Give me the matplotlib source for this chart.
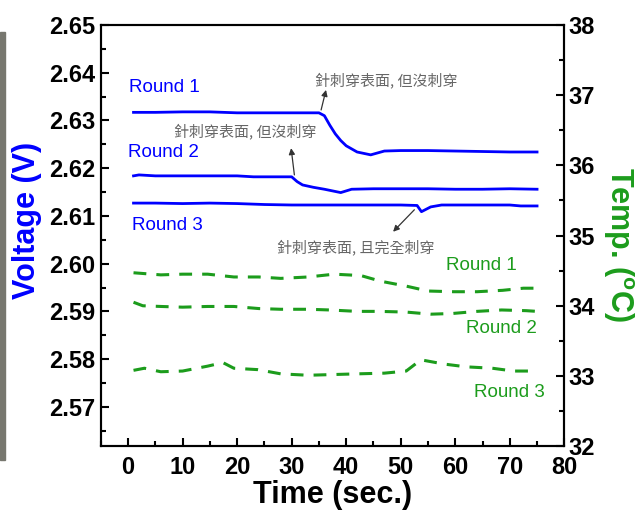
import numpy as np
import matplotlib
matplotlib.use("Agg")
import matplotlib.pyplot as plt
from matplotlib.patches import Rectangle
from matplotlib.ticker import MultipleLocator

plt.rcParams["font.family"] = ["Liberation Sans", "DejaVu Sans"]
plt.rcParams["mathtext.fontset"] = "custom"
plt.rcParams["mathtext.bf"] = "Liberation Sans:bold"
plt.rcParams["mathtext.rm"] = "Liberation Sans"

# Voltage curves (blue, left axis)
t_v1 = [1, 5, 10, 15, 20, 25, 30, 35, 36, 37, 38, 39, 40, 42, 44.5, 47, 50, 55, 60, 65, 70, 75]
v1 = [2.6317, 2.6317, 2.6318, 2.6318, 2.6316, 2.6316, 2.6316, 2.6316, 2.6310, 2.6290, 2.6272,
      2.6258, 2.6247, 2.6234, 2.6228, 2.6236, 2.6237, 2.6237, 2.6236, 2.6235, 2.6234, 2.6234]
t_v2 = [1, 2, 5, 10, 20, 23, 25, 30, 31, 32, 34, 36, 39, 41, 45, 50, 55, 60, 65, 70, 75]
v2 = [2.6184, 2.6186, 2.6184, 2.6184, 2.6184, 2.6182, 2.6182, 2.6182, 2.6172, 2.6165, 2.6160,
      2.6156, 2.6149, 2.6156, 2.6157, 2.6157, 2.6157, 2.6156, 2.6156, 2.6157, 2.6156]
t_v3 = [1, 5, 10, 15, 20, 25, 30, 35, 40, 45, 50, 53, 53.8, 55.5, 57.5, 60, 65, 70, 72, 75]
v3 = [2.6127, 2.6127, 2.6126, 2.6127, 2.6126, 2.6124, 2.6123, 2.6123, 2.6123, 2.6123, 2.6123,
      2.6122, 2.6109, 2.6119, 2.6123, 2.6123, 2.6123, 2.6123, 2.6121, 2.6121]

# Temperature curves (green dashed, right axis)
t_T1 = [1, 6, 10, 14.6, 19.4, 24, 28, 33, 37.8, 42.7, 46.3, 51, 55, 59.7, 64, 68.7, 72.5, 75]
T1 = [34.47, 34.44, 34.45, 34.45, 34.41, 34.41, 34.39, 34.41, 34.45, 34.43, 34.35, 34.28,
      34.21, 34.20, 34.20, 34.22, 34.25, 34.25]
t_T2 = [1, 2.7, 6, 10, 14.6, 19.4, 24, 28, 33, 37, 42, 46, 51, 55.5, 59.5, 64, 68.5, 73, 75]
T2 = [34.05, 34.00, 33.99, 33.98, 33.99, 33.99, 33.96, 33.95, 33.95, 33.94, 33.92, 33.92,
      33.91, 33.88, 33.89, 33.92, 33.94, 33.93, 33.92]
t_T3 = [1, 3, 6, 10, 14.6, 17.4, 19.4, 23.8, 28, 33, 37.5, 42, 47, 51, 53.7, 57.9, 62, 66.8, 70.7, 74.7]
T3 = [33.08, 33.11, 33.06, 33.07, 33.14, 33.19, 33.11, 33.09, 33.03, 33.01, 33.02, 33.03,
      33.04, 33.07, 33.23, 33.17, 33.13, 33.11, 33.07, 33.07]

labels = ["Round 1", "Round 2", "Round 3"]
note_keep = "針刺穿表面, 但沒刺穿"
note_pierce = "針刺穿表面, 且完全刺穿"

blue = "#0000ff"
green = "#1c9c1c"
gray = "#666666"

fig = plt.figure(figsize=(6.42, 5.2), dpi=100)
ax = fig.add_axes([0.157, 0.142, 0.722, 0.810])
ax2 = ax.twinx()

# left photo edge strip
fig.patches.append(Rectangle((0, 0.115), 0.008, 0.823, transform=fig.transFigure,
                             color="#77776f", zorder=0))

for t, v in [(t_v1, v1), (t_v2, v2), (t_v3, v3)]:
    ax.plot(t, v, color=blue, lw=2.0)
for t, T in [(t_T1, T1), (t_T2, T2), (t_T3, T3)]:
    ax2.plot(t, T, color=green, lw=2.2, linestyle=(0, (4.2, 3.3)))

ax.set_xlim(-5, 80)
ax.set_ylim(2.5618, 2.65)
ax2.set_ylim(32, 38)

ax.xaxis.set_major_locator(MultipleLocator(10))
ax.xaxis.set_minor_locator(MultipleLocator(5))
ax.yaxis.set_major_locator(MultipleLocator(0.01))
ax.yaxis.set_minor_locator(MultipleLocator(0.005))
ax2.yaxis.set_major_locator(MultipleLocator(1))
ax2.yaxis.set_minor_locator(MultipleLocator(0.5))
ax.yaxis.set_major_formatter(matplotlib.ticker.FormatStrFormatter("%.2f"))

for a in (ax, ax2):
    for s in a.spines.values():
        s.set_linewidth(1.5)
    a.tick_params(which="major", direction="in", length=6, width=1.5,
                  labelsize=17, pad=4)
    a.tick_params(which="minor", direction="in", length=3.5, width=1.5)
ax.tick_params(axis="x", which="major", pad=7)
ax.tick_params(top=False, right=False, which="both")
ax2.tick_params(axis="y", which="both", left=False, right=True)
ax2.tick_params(axis="y", which="major", pad=3)
for lab in ax.get_xticklabels() + ax.get_yticklabels() + ax2.get_yticklabels():
    lab.set_fontweight("bold")

ax.set_xlabel("Time (sec.)", fontsize=22, fontweight="bold", labelpad=1)
fig.text(0.042, 0.577, "Voltage (V)", rotation=90, color=blue, fontsize=22,
         fontweight="bold", ha="center", va="center")
fig.text(0.963, 0.53, r"Temp. ($\mathbf{^{o}}$C)", rotation=270, color=green, fontsize=22,
         fontweight="bold", ha="center", va="center")

# round labels
for (x, y), s in zip([(6.6, 2.6368), (6.4, 2.6232), (7.3, 2.6081)], labels):
    ax.text(x, y, s, color=blue, fontsize=13.5, ha="center", va="center")
for (x, y), s in zip([(64.8, 34.57), (68.4, 33.67), (69.9, 32.76)], labels):
    ax2.text(x, y, s, color=green, fontsize=13.5, ha="center", va="center")

# annotations
cjk = ["Noto Sans CJK TC", "DejaVu Sans"]
arrow = dict(arrowstyle="-|>", color="#333333", lw=0.9, mutation_scale=9, shrinkA=0, shrinkB=0)
ax.text(47.3, 2.6383, note_keep, color=gray, fontsize=10.8, family=cjk, ha="center", va="center")
ax.annotate("", xy=(36.3, 2.6364), xytext=(35.4, 2.6322), arrowprops=arrow)
ax.text(21.5, 2.6277, note_keep, color=gray, fontsize=10.8, family=cjk, ha="center", va="center")
ax.annotate("", xy=(29.9, 2.6242), xytext=(30.5, 2.6186), arrowprops=arrow)
ax.text(41.8, 2.6035, note_pierce, color=gray, fontsize=10.8, family=cjk, ha="center", va="center")
ax.annotate("", xy=(48.6, 2.6067), xytext=(52.5, 2.6113), arrowprops=arrow)

fig.savefig("out.png", dpi=100)
